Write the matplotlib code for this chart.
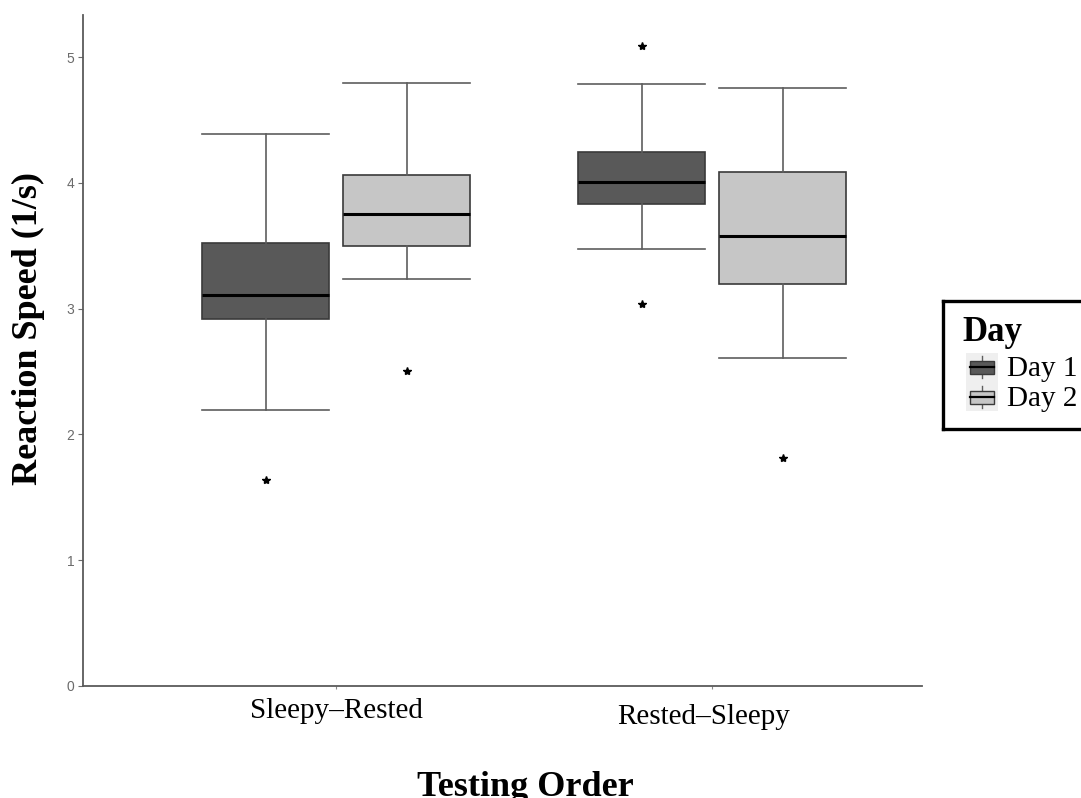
import matplotlib
matplotlib.use("Agg")
import matplotlib.pyplot as plt
from matplotlib.patches import Rectangle

# ── data ──────────────────────────────────────────────────────────────────────
orders = ["Sleepy\u2013Rested", "Rested\u2013Sleepy"]
days = ["Day 1", "Day 2"]

# five-number summaries per order, per day: (whislo, q1, med, q3, whishi)
day1_stats = [(2.19, 2.915, 3.108, 3.525, 4.39),
              (3.474, 3.835, 4.005, 4.243, 4.787)]
day2_stats = [(3.238, 3.498, 3.753, 4.063, 4.795),
              (2.607, 3.198, 3.575, 4.084, 4.753)]
day1_fliers = [[1.64], [5.09, 3.037]]
day2_fliers = [[2.506], [1.81]]

y_ticks = [0, 1, 2, 3, 4, 5]

day_colors = {"Day 1": "#595959", "Day 2": "#c6c6c6"}
SERIF = "Liberation Serif"
SANS = "Liberation Sans"

W, H = 1081, 798
fig = plt.figure(figsize=(W / 100, H / 100), dpi=100)
ax = fig.add_axes([83.3 / W, 1 - 685.7 / H, (922 - 83.3) / W, (685.7 - 15) / H])

dodge = 0.1875
box_w = 0.338
stats, positions, colors = [], [], []
for gi, name in enumerate(orders):
    for day, st, fl, off in (("Day 1", day1_stats[gi], day1_fliers[gi], -dodge),
                             ("Day 2", day2_stats[gi], day2_fliers[gi], dodge)):
        lo, q1, med, q3, hi = st
        stats.append(dict(whislo=lo, q1=q1, med=med, q3=q3, whishi=hi,
                          fliers=fl, label=f"{name} {day}"))
        positions.append(gi + 1 + off)
        colors.append(day_colors[day])

bp = ax.bxp(
    stats, positions=positions, widths=box_w, capwidths=box_w,
    patch_artist=True, showfliers=True,
    boxprops=dict(edgecolor="#3a3a3a", linewidth=1.2),
    whiskerprops=dict(color="#5e5e5e", linewidth=1.2),
    capprops=dict(color="#5e5e5e", linewidth=1.2),
    medianprops=dict(color="black", linewidth=2.2),
    flierprops=dict(marker="*", markersize=6, markerfacecolor="black",
                    markeredgecolor="black", linestyle="none"),
)
for patch, c in zip(bp["boxes"], colors):
    patch.set_facecolor(c)

ax.set_xlim(0.327, 2.558)
ax.set_ylim(0, 5.336)

for s in ("top", "right"):
    ax.spines[s].set_visible(False)
for s in ("left", "bottom"):
    ax.spines[s].set_color("#5a5a5a")
    ax.spines[s].set_linewidth(1.3)

ax.set_yticks(y_ticks)
ax.set_yticklabels([str(t) for t in y_ticks], fontsize=10, family=SANS,
                   color="#6b6b6b")
ax.tick_params(axis="y", length=3.5, width=0.8, color="#6b6b6b", pad=3)

ax.set_xticks([1, 2])
ax.set_xticklabels([])
ax.tick_params(axis="x", length=2.2, width=0.8, color="#8a8a8a")
# category labels (second one sits a touch lower and left in the reference)
for i, (name, dx, dy) in enumerate(zip(orders, [0, -6], [23, 27.5])):
    ax.annotate(name, xy=(i + 1, 0), xycoords=("data", "axes fraction"),
                xytext=(dx, -dy), textcoords="offset points",
                ha="center", va="baseline", fontsize=21, family=SERIF)

fig.text(28 / W, 1 - 329 / H, "Reaction Speed (1/s)", rotation=90,
         ha="center", va="center", fontsize=26, fontweight="bold", family=SERIF)
fig.text(525 / W, 2 / H, "Testing Order", ha="center", va="baseline",
         fontsize=26, fontweight="bold", family=SERIF)

# ── legend (drawn by hand so the frame runs off the right edge) ───────────────
lax = fig.add_axes([943 / W, 1 - 429 / H, 200 / W, 128 / H])
lax.set_xlim(943, 1143)
lax.set_ylim(429, 301)
lax.set_xticks([])
lax.set_yticks([])
for s in lax.spines.values():
    s.set_color("black")
    s.set_linewidth(2.4)

lax.text(962, 341, "Day", fontsize=25, fontweight="bold", family=SERIF,
         ha="left", va="baseline")
lax.add_patch(Rectangle((966, 353), 32, 58, facecolor="#efefef",
                        edgecolor="none"))
for k, day in enumerate(days):
    cy = 367 + 30 * k
    lax.plot([982, 982], [cy - 11, cy + 11], color="#5e5e5e", lw=1.0)
    lax.add_patch(Rectangle((970, cy - 6.5), 24, 13,
                            facecolor=day_colors[day], edgecolor="#3a3a3a",
                            lw=1.0, zorder=3))
    lax.plot([970, 994], [cy, cy], color="black", lw=1.6, zorder=4)
    lax.text(1007, cy + 9.5, day, fontsize=21, family=SERIF,
             ha="left", va="baseline")

fig.savefig("out.png", dpi=100)
